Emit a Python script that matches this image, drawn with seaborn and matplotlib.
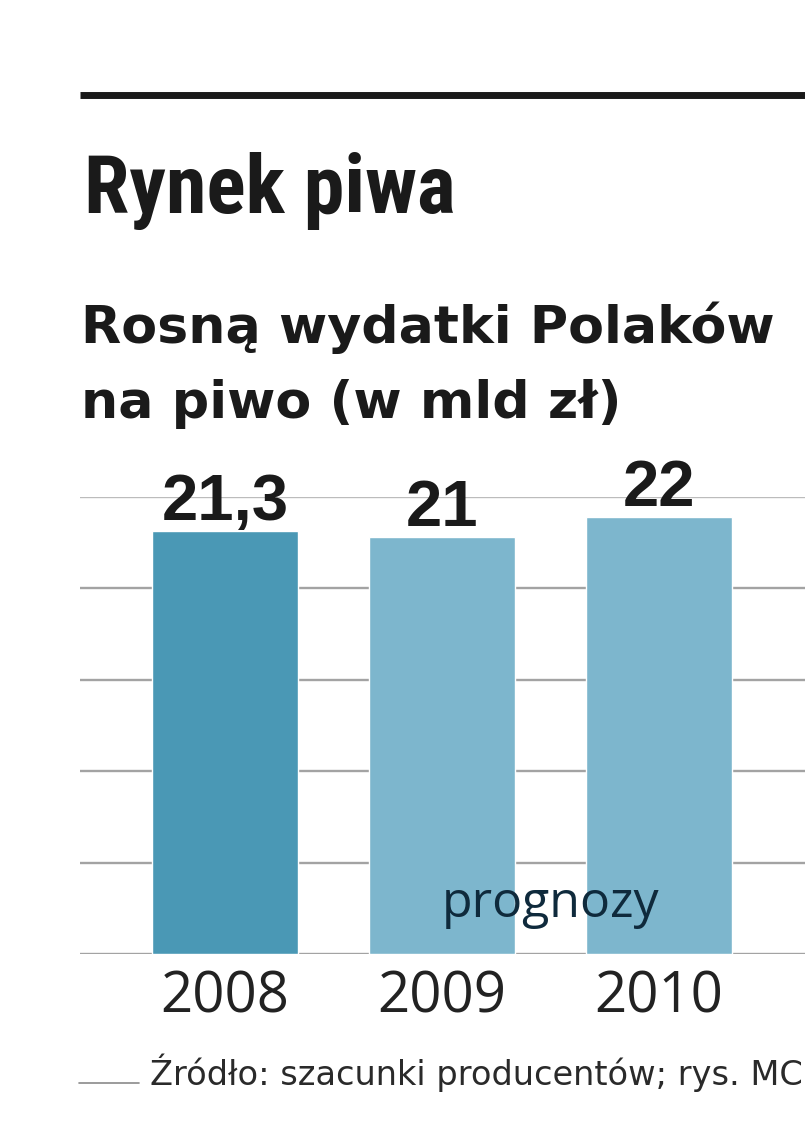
import numpy as np
import pandas as pd
import matplotlib
matplotlib.use("Agg")
import matplotlib.pyplot as plt
from matplotlib import font_manager
from matplotlib.lines import Line2D
import seaborn as sns

# data
years = ["2008", "2009", "2010"]
spending = [21.3, 21.0, 22.0]
bar_colors = ["#4a98b5", "#7db6cd", "#7db6cd"]
value_labels = ["21,3", "21", "22"]

title = "Rynek piwa"
subtitle_1 = "Rosną wydatki Polaków"
subtitle_2 = "na piwo (w mld zł)"
forecast_note = "prognozy"
source = "Źródło: szacunki producentów; rys. MC"

sns.set_theme(style="white")
plt.rcParams["font.family"] = ["Open Sans", "DejaVu Sans"]

# pick a condensed heavy face for the headline if one is installed
installed = {f.name for f in font_manager.fontManager.ttflist}
narrow = [n for n in ["Roboto Condensed", "Liberation Sans Narrow",
                      "Open Sans Condensed", "Noto Sans Condensed",
                      "DejaVu Sans Condensed"] if n in installed]
if narrow:
    head_font = dict(family=[narrow[0], "DejaVu Sans"], fontweight="bold")
else:
    head_font = dict(family=["Liberation Sans", "DejaVu Sans"], fontweight="bold")
label_font = dict(family=["Liberation Sans", "DejaVu Sans"], fontweight="bold")

W, H = 805, 1128
fig = plt.figure(figsize=(W / 100, H / 100), dpi=100)
fig.patch.set_facecolor("white")

def fx(px):
    return px / W

def fy(py):
    return 1 - py / H

ax = fig.add_axes([fx(80), fy(954), fx(805) - fx(80), fy(497) - fy(954)])

df = pd.DataFrame({"year": years, "value": spending})
sns.barplot(data=df, x="year", y="value", hue="year", palette=bar_colors,
            width=0.677, saturation=1, legend=False, ax=ax, zorder=3)

ax.set_xlim(-0.668, 2.673)
ax.set_ylim(0, 23)
ax.set_yticks(np.linspace(0, 23, 6))
ax.yaxis.grid(True, color="#a3a3a3", linewidth=1.7, zorder=0)
ax.get_ygridlines()[-1].set_color("#bcbcbc")
ax.set_axisbelow(True)
ax.set_yticklabels([])
ax.tick_params(axis="y", length=0)
ax.tick_params(axis="x", length=0, pad=11, labelsize=40.5, labelcolor="#222222")
ax.set_xlabel("")
ax.set_ylabel("")
for s in ax.spines.values():
    s.set_visible(False)

for i, (v, lab) in enumerate(zip(spending, value_labels)):
    ax.annotate(lab, (i, v), xytext=(0, 8), textcoords="offset points",
                ha="center", va="baseline", fontsize=47, color="#1a1a1a",
                **label_font)

ax.text(1.502, 1.87, forecast_note, ha="center", va="baseline", fontsize=36,
        color="#0f2a3c", zorder=5)

# header
fig.add_artist(Line2D([fx(80), 1.0], [fy(95), fy(95)], color="#1a1a1a",
                      linewidth=5, solid_capstyle="butt"))
title_txt = fig.text(fx(84), fy(213), title, ha="left", va="baseline",
                     fontsize=60, color="#1a1a1a", **head_font)
fig.text(fx(81), fy(343), subtitle_1, ha="left", va="baseline", fontsize=37.6,
         fontweight="bold", family=["DejaVu Sans"], color="#1a1a1a")
fig.text(fx(81), fy(418), subtitle_2, ha="left", va="baseline", fontsize=37.6,
         fontweight="bold", family=["DejaVu Sans"], color="#1a1a1a")

# footer
fig.add_artist(Line2D([fx(79), fx(139)], [fy(1083), fy(1083)], color="#8a8a8a",
                      linewidth=1.2))
source_txt = fig.text(fx(150), fy(1085), source, ha="left", va="baseline",
                      fontsize=22, family=["DejaVu Sans"], color="#2a2a2a")

# size the headline and the source line to the reference widths
fig.canvas.draw()
r = fig.canvas.get_renderer()
def fit(t, target_px):
    w = t.get_window_extent(r).width
    t.set_fontsize(t.get_fontsize() * target_px / w)

fit(title_txt, 372)
fit(source_txt, 652)

fig.savefig("out.png", dpi=100, facecolor="white")
